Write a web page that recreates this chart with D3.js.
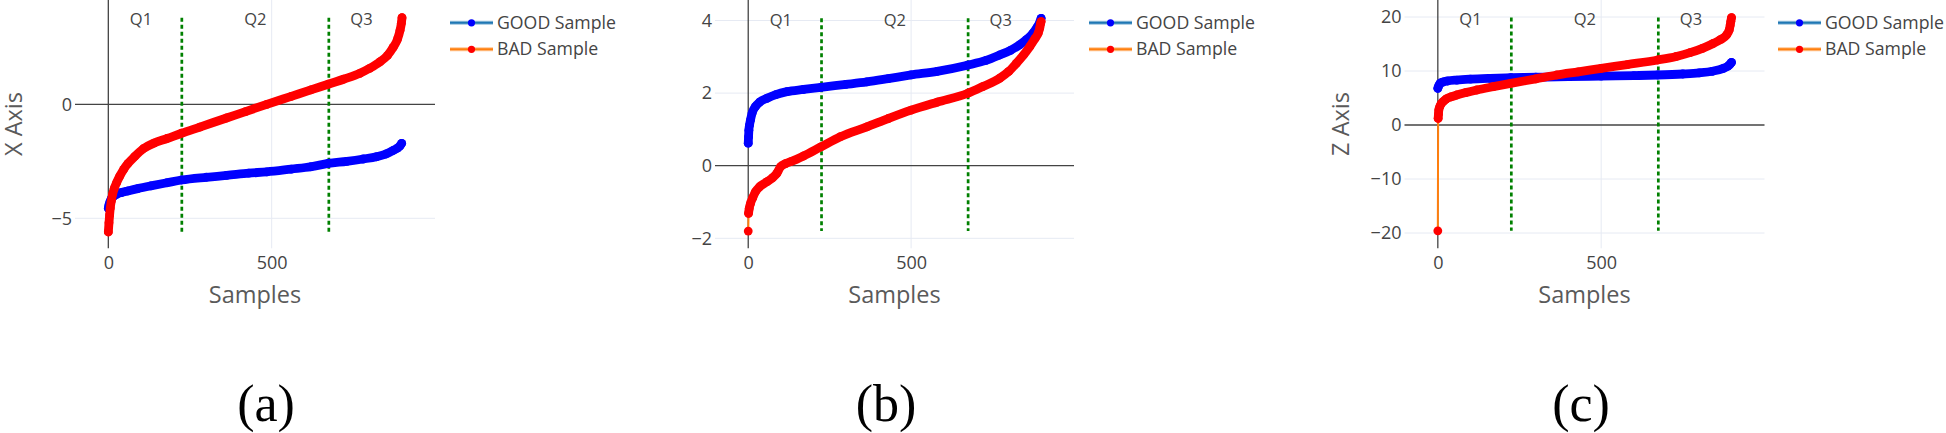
<!DOCTYPE html>
<html><head><meta charset="utf-8">
<script src="https://cdn.jsdelivr.net/npm/d3@7"></script>
<style>body{margin:0;background:#fff} svg{display:block}</style>
</head><body><svg id="chart" width="1946" height="433"></svg>
<script>
// ---------- data ----------
const xTicks = [0, 500];
const quartileBounds = [225, 675];
const quartileLabels = ["Q1", "Q2", "Q3"];
const quartileLabelPos = [100, 450, 775];
const seriesNames = ["GOOD Sample", "BAD Sample"];
const panelLetters = ["(a)", "(b)", "(c)"];
const yTitles = ["X Axis", "", "Z Axis"];
const xTitle = "Samples";

const yTicksA = [-5, 0];
const yTicksB = [-2, 0, 2, 4];
const yTicksC = [-20, -10, 0, 10, 20];

// panel (a) — X axis
const goodAIdx = [0, 2, 5, 9, 15, 25, 40, 60, 90, 130, 180, 224, 300, 362, 430, 485, 560, 620, 673, 730, 780, 821, 850, 872, 885, 893, 898];
const goodAVal = [-4.56, -4.42, -4.28, -4.15, -4.05, -3.95, -3.87, -3.8, -3.7, -3.58, -3.44, -3.32, -3.2, -3.12, -3.02, -2.96, -2.84, -2.74, -2.59, -2.5, -2.4, -2.3, -2.18, -2.02, -1.92, -1.82, -1.71];
const badAIdx = [0, 2, 4, 6, 9, 13, 18, 25, 35, 47, 60, 80, 107, 140, 180, 224, 280, 362, 420, 485, 560, 620, 673, 720, 770, 800, 832, 855, 872, 885, 893, 897, 899];
const badAVal = [-5.6, -5.2, -4.85, -4.55, -4.25, -3.95, -3.7, -3.45, -3.15, -2.85, -2.6, -2.3, -1.95, -1.7, -1.5, -1.27, -1.0, -0.6, -0.32, 0.0, 0.35, 0.63, 0.88, 1.1, 1.36, 1.58, 1.87, 2.15, 2.5, 2.85, 3.25, 3.55, 3.8];

// panel (b) — Y axis
const goodBIdx = [0, 1, 2, 4, 7, 12, 22, 35, 58, 85, 119, 170, 223, 300, 364, 430, 500, 580, 673, 730, 772, 805, 833, 855, 874, 887, 895, 899];
const goodBVal = [0.62, 0.8, 0.98, 1.12, 1.26, 1.45, 1.63, 1.75, 1.86, 1.96, 2.04, 2.1, 2.16, 2.24, 2.31, 2.4, 2.5, 2.6, 2.77, 2.9, 3.05, 3.18, 3.33, 3.48, 3.65, 3.82, 3.95, 4.06];
const badBIdx = [0, 1, 3, 7, 14, 22, 35, 58, 75, 88, 99, 115, 130, 170, 223, 283, 364, 430, 500, 580, 673, 720, 772, 800, 823, 845, 864, 880, 890, 895, 897, 899];
const badBVal = [-1.8, -1.31, -1.18, -1.04, -0.88, -0.72, -0.58, -0.44, -0.33, -0.21, -0.03, 0.06, 0.11, 0.27, 0.52, 0.8, 1.07, 1.3, 1.53, 1.75, 1.99, 2.18, 2.41, 2.6, 2.82, 3.05, 3.28, 3.5, 3.65, 3.8, 3.9, 3.97];

// panel (c) — Z axis
const goodCIdx = [0, 3, 7, 15, 30, 58, 100, 160, 223, 300, 400, 500, 600, 673, 750, 800, 840, 874, 888, 895, 899];
const goodCVal = [6.8, 7.3, 7.72, 7.95, 8.15, 8.33, 8.5, 8.65, 8.76, 8.85, 8.95, 9.07, 9.15, 9.26, 9.45, 9.65, 9.95, 10.49, 10.9, 11.3, 11.6];
const badCIdx = [0, 1, 2, 3, 6, 10, 16, 25, 40, 58, 85, 119, 170, 223, 300, 364, 430, 500, 580, 673, 730, 772, 810, 843, 865, 884, 892, 895, 897, 899];
const badCVal = [-19.6, 1.23, 2.0, 2.78, 3.4, 3.9, 4.32, 4.8, 5.2, 5.56, 6.0, 6.48, 7.1, 7.72, 8.55, 9.26, 9.85, 10.49, 11.2, 12.04, 12.7, 13.4, 14.2, 15.1, 15.8, 16.7, 17.6, 18.5, 19.2, 19.9];

// ---------- layout ----------
const W = 1946, H = 433;
const plotTop = 0, plotBottom = 248.3;
const xDomain = [-102, 1000];
const lineColors = ["#1f77b4", "#ff7f0e"];
const markerColors = ["#0000ff", "#ff0000"];
const textColor = "#444";
const titleColor = "#5a5a5a";
const font = "'Open Sans', sans-serif";

const panels = [
  { left: 75, right: 435, yDomain: [-6.316, 4.575], yTicks: yTicksA, title: yTitles[0], titleX: 13.5,
    series: [[goodAIdx, goodAVal], [badAIdx, badAVal]], legendX: 450, letterX: 266 },
  { left: 715, right: 1074, yDomain: [-2.275, 4.565], yTicks: yTicksB, title: yTitles[1], titleX: 0,
    series: [[goodBIdx, goodBVal], [badBIdx, badBVal]], legendX: 1089, letterX: 886 },
  { left: 1404.5, right: 1764.5, yDomain: [-22.83, 23.15], yTicks: yTicksC, title: yTitles[2], titleX: 1341,
    series: [[goodCIdx, goodCVal], [badCIdx, badCVal]], legendX: 1778, letterX: 1581 }
];

const svg = d3.select("#chart");
svg.append("rect").attr("width", W).attr("height", H).attr("fill", "#fff");

panels.forEach((p, pi) => {
  const x = d3.scaleLinear().domain(xDomain).range([p.left, p.right]);
  const y = d3.scaleLinear().domain(p.yDomain).range([plotBottom, plotTop]);
  const g = svg.append("g");

  // grid lines
  g.selectAll(".gy").data(p.yTicks.filter(t => t !== 0)).join("line")
    .attr("x1", p.left).attr("x2", p.right)
    .attr("y1", d => y(d)).attr("y2", d => y(d))
    .attr("stroke", "#e6eaf3").attr("stroke-width", 1);
  g.selectAll(".gx").data(xTicks.filter(t => t !== 0)).join("line")
    .attr("x1", d => x(d)).attr("x2", d => x(d))
    .attr("y1", plotTop).attr("y2", plotBottom)
    .attr("stroke", "#e6eaf3").attr("stroke-width", 1);

  // zero lines
  g.append("line").attr("x1", p.left).attr("x2", p.right)
    .attr("y1", y(0)).attr("y2", y(0)).attr("stroke", "#444").attr("stroke-width", 1.3);
  g.append("line").attr("x1", x(0)).attr("x2", x(0))
    .attr("y1", plotTop).attr("y2", plotBottom).attr("stroke", "#444").attr("stroke-width", 1.3);

  // y axis tick labels
  const ya = g.append("g").attr("transform", `translate(${p.left},0)`)
    .call(d3.axisLeft(y).tickValues(p.yTicks).tickSize(0).tickPadding(3).tickFormat(d3.format("d")));
  ya.select(".domain").remove();
  ya.selectAll("text").attr("font-family", font).attr("font-size", 18).attr("fill", textColor);

  // x axis tick labels
  const xa = g.append("g").attr("transform", `translate(0,256.7)`)
    .call(d3.axisBottom(x).tickValues(xTicks).tickSize(0).tickPadding(0).tickFormat(d3.format("d")));
  xa.select(".domain").remove();
  xa.selectAll("text").attr("font-family", font).attr("font-size", 18).attr("fill", textColor);

  // axis titles
  g.append("text").attr("x", (p.left + p.right) / 2).attr("y", 295).attr("dy", "0.35em")
    .attr("text-anchor", "middle").attr("font-family", font).attr("font-size", 23.5)
    .attr("fill", titleColor).text(xTitle);
  if (p.title) {
    g.append("text").attr("transform", `translate(${p.titleX},124) rotate(-90)`)
      .attr("dy", "0.35em").attr("text-anchor", "middle").attr("font-family", font)
      .attr("font-size", 23.5).attr("fill", titleColor).text(p.title);
  }

  // quartile lines
  const allVals = p.series[0][1].concat(p.series[1][1]);
  const vmin = d3.min(allVals), vmax = d3.max(allVals);
  g.selectAll(".q").data(quartileBounds).join("line")
    .attr("x1", d => x(d)).attr("x2", d => x(d))
    .attr("y1", y(vmax)).attr("y2", y(vmin))
    .attr("stroke", "#008000").attr("stroke-width", 2.7).attr("stroke-dasharray", "4,3");
  g.selectAll(".ql").data(quartileLabels).join("text")
    .attr("x", (d, i) => x(quartileLabelPos[i])).attr("y", y(vmax) + 2).attr("dy", "0.35em")
    .attr("text-anchor", "middle").attr("font-family", font).attr("font-size", 16.5)
    .attr("fill", textColor).text(d => d);

  // series
  p.series.forEach((s, si) => {
    const pts = s[0].map((idx, k) => [x(idx), y(s[1][k])]);
    // thin trace line
    g.append("path").attr("d", d3.line()(pts)).attr("fill", "none")
      .attr("stroke", lineColors[si]).attr("stroke-width", 2);
    // dense-marker band, broken only where consecutive markers jump far vertically
    const segs = [];
    let cur = [pts[0]];
    for (let k = 1; k < pts.length; k++) {
      const dy = Math.abs(pts[k][1] - pts[k - 1][1]);
      if (dy > 14) { segs.push(cur); cur = [pts[k]]; }
      else cur.push(pts[k]);
    }
    segs.push(cur);
    segs.filter(sg => sg.length > 1).forEach(sg => {
      g.append("path").attr("d", d3.line().curve(d3.curveMonotoneX)(sg)).attr("fill", "none")
        .attr("stroke", markerColors[si]).attr("stroke-width", 8.8)
        .attr("stroke-linecap", "round").attr("stroke-linejoin", "round");
    });
    g.selectAll(".m" + si).data(pts).join("circle")
      .attr("cx", d => d[0]).attr("cy", d => d[1]).attr("r", 4.4)
      .attr("fill", markerColors[si]);
  });

  // legend
  const legY = [22.8, 49.3];
  seriesNames.forEach((name, si) => {
    const lg = g.append("g");
    lg.append("line").attr("x1", p.legendX).attr("x2", p.legendX + 43)
      .attr("y1", legY[si]).attr("y2", legY[si])
      .attr("stroke", lineColors[si]).attr("stroke-width", 4).attr("stroke-opacity", 0.45);
    lg.append("line").attr("x1", p.legendX).attr("x2", p.legendX + 43)
      .attr("y1", legY[si]).attr("y2", legY[si])
      .attr("stroke", lineColors[si]).attr("stroke-width", 2);
    lg.append("circle").attr("cx", p.legendX + 21.5).attr("cy", legY[si]).attr("r", 3.6)
      .attr("fill", markerColors[si]);
    lg.append("text").attr("x", p.legendX + 47).attr("y", legY[si]).attr("dy", "0.35em")
      .attr("font-family", font).attr("font-size", 17.7).attr("fill", textColor).text(name);
  });

  // panel letter
  svg.append("text").attr("x", p.letterX).attr("y", 421).attr("text-anchor", "middle")
    .attr("font-family", "'Liberation Serif', 'Times New Roman', serif").attr("font-size", 52)
    .attr("fill", "#000").text(panelLetters[pi]);
});
</script>
</body></html>
